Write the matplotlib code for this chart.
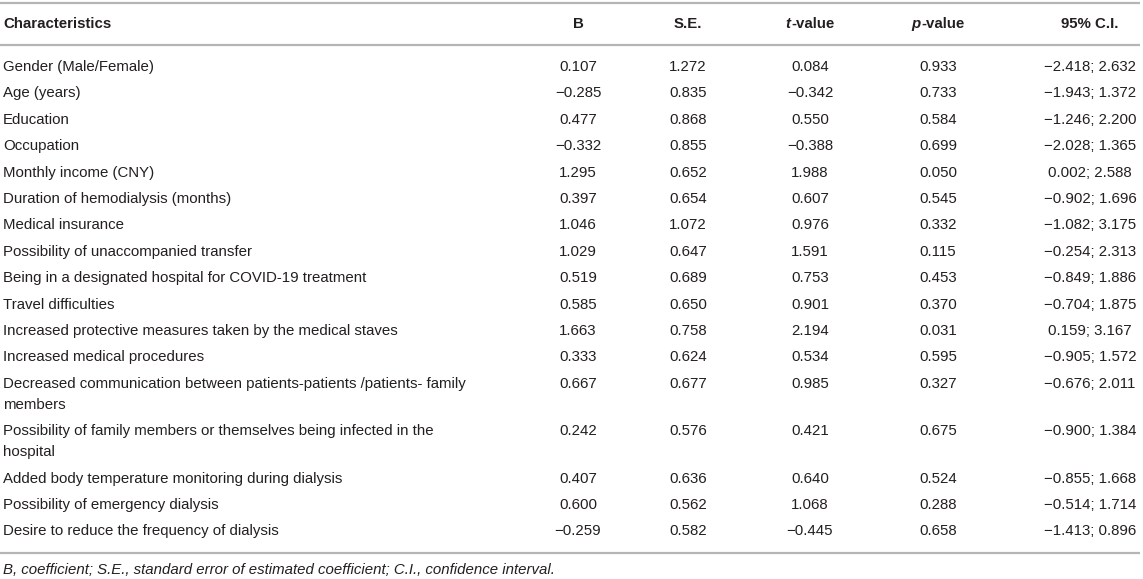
import matplotlib
matplotlib.use('Agg')
import matplotlib.pyplot as plt

characteristics = [
    'Gender (Male/Female)',
    'Age (years)',
    'Education',
    'Occupation',
    'Monthly income (CNY)',
    'Duration of hemodialysis (months)',
    'Medical insurance',
    'Possibility of unaccompanied transfer',
    'Being in a designated hospital for COVID-19 treatment',
    'Travel difficulties',
    'Increased protective measures taken by the medical staves',
    'Increased medical procedures',
    'Decreased communication between patients-patients /patients- family\nmembers',
    'Possibility of family members or themselves being infected in the\nhospital',
    'Added body temperature monitoring during dialysis',
    'Possibility of emergency dialysis',
    'Desire to reduce the frequency of dialysis',
]
coef_b = [0.107, -0.285, 0.477, -0.332, 1.295, 0.397, 1.046, 1.029, 0.519, 0.585,
          1.663, 0.333, 0.667, 0.242, 0.407, 0.600, -0.259]
std_err = [1.272, 0.835, 0.868, 0.855, 0.652, 0.654, 1.072, 0.647, 0.689, 0.650,
           0.758, 0.624, 0.677, 0.576, 0.636, 0.562, 0.582]
t_value = [0.084, -0.342, 0.550, -0.388, 1.988, 0.607, 0.976, 1.591, 0.753, 0.901,
           2.194, 0.534, 0.985, 0.421, 0.640, 1.068, -0.445]
p_value = [0.933, 0.733, 0.584, 0.699, 0.050, 0.545, 0.332, 0.115, 0.453, 0.370,
           0.031, 0.595, 0.327, 0.675, 0.524, 0.288, 0.658]
ci_low = [-2.418, -1.943, -1.246, -2.028, 0.002, -0.902, -1.082, -0.254, -0.849, -0.704,
          0.159, -0.905, -0.676, -0.900, -0.855, -0.514, -1.413]
ci_high = [2.632, 1.372, 2.200, 1.365, 2.588, 1.696, 3.175, 2.313, 1.886, 1.875,
           3.167, 1.572, 2.011, 1.384, 1.668, 1.714, 0.896]
footnote = 'B, coefficient; S.E., standard error of estimated coefficient; C.I., confidence interval.'

W, H = 1143, 579
TEXT = '#231f20'
RULE = '#b5b5b5'
FS = 10.8
FONT = 'Liberation Sans'

# column centres in pixels
col_x = [578, 688, 810, 938, 1090]
row_pitch = 26.4
wrap_pitch = 21.0


def fmt(v):
    return f'{v:.3f}'.replace('-', '\u2212')


fig = plt.figure(figsize=(W / 100, H / 100), dpi=100)
ax = fig.add_axes([0, 0, 1, 1])
ax.set_xlim(0, W)
ax.set_ylim(H, 0)
ax.axis('off')

# rules
ax.hlines([3, 45], 0, W - 3, color=RULE, lw=1.6)

# header
hdr = dict(fontsize=FS, fontweight='bold', color=TEXT, family=FONT, va='center')
ax.text(3, 24, 'Characteristics', ha='left', **hdr)
ax.text(col_x[0], 24, 'B', ha='center', **hdr)
ax.text(col_x[1], 24, 'S.E.', ha='center', **hdr)
ax.text(col_x[4], 24, '95% C.I.', ha='center', **hdr)

renderer = fig.canvas.get_renderer()
for cx, letter in [(col_x[2], 't'), (col_x[3], 'p')]:
    a = ax.text(0, 24, letter, ha='left', style='italic', **hdr)
    b = ax.text(0, 24, '-value', ha='left', **hdr)
    wa = a.get_window_extent(renderer).width
    wb = b.get_window_extent(renderer).width
    x0 = cx - (wa + wb) / 2
    a.set_x(x0)
    b.set_x(x0 + wa)

# body
body = dict(fontsize=FS, color=TEXT, family=FONT, va='center')
y = 67
for i, label in enumerate(characteristics):
    lines = label.split('\n')
    for k, line in enumerate(lines):
        ax.text(3, y + k * wrap_pitch, line, ha='left', **body)
    vals = [fmt(coef_b[i]), fmt(std_err[i]), fmt(t_value[i]), fmt(p_value[i]),
            f'{fmt(ci_low[i])}; {fmt(ci_high[i])}']
    for cx, v in zip(col_x, vals):
        ax.text(cx, y, v, ha='center', **body)
    y += row_pitch + (len(lines) - 1) * wrap_pitch

bottom = y - row_pitch + 22
ax.hlines([bottom], 0, W - 3, color=RULE, lw=1.6)
ax.text(3, bottom + 17, footnote, ha='left', style='italic', **body)

fig.savefig('out.png', dpi=100)
